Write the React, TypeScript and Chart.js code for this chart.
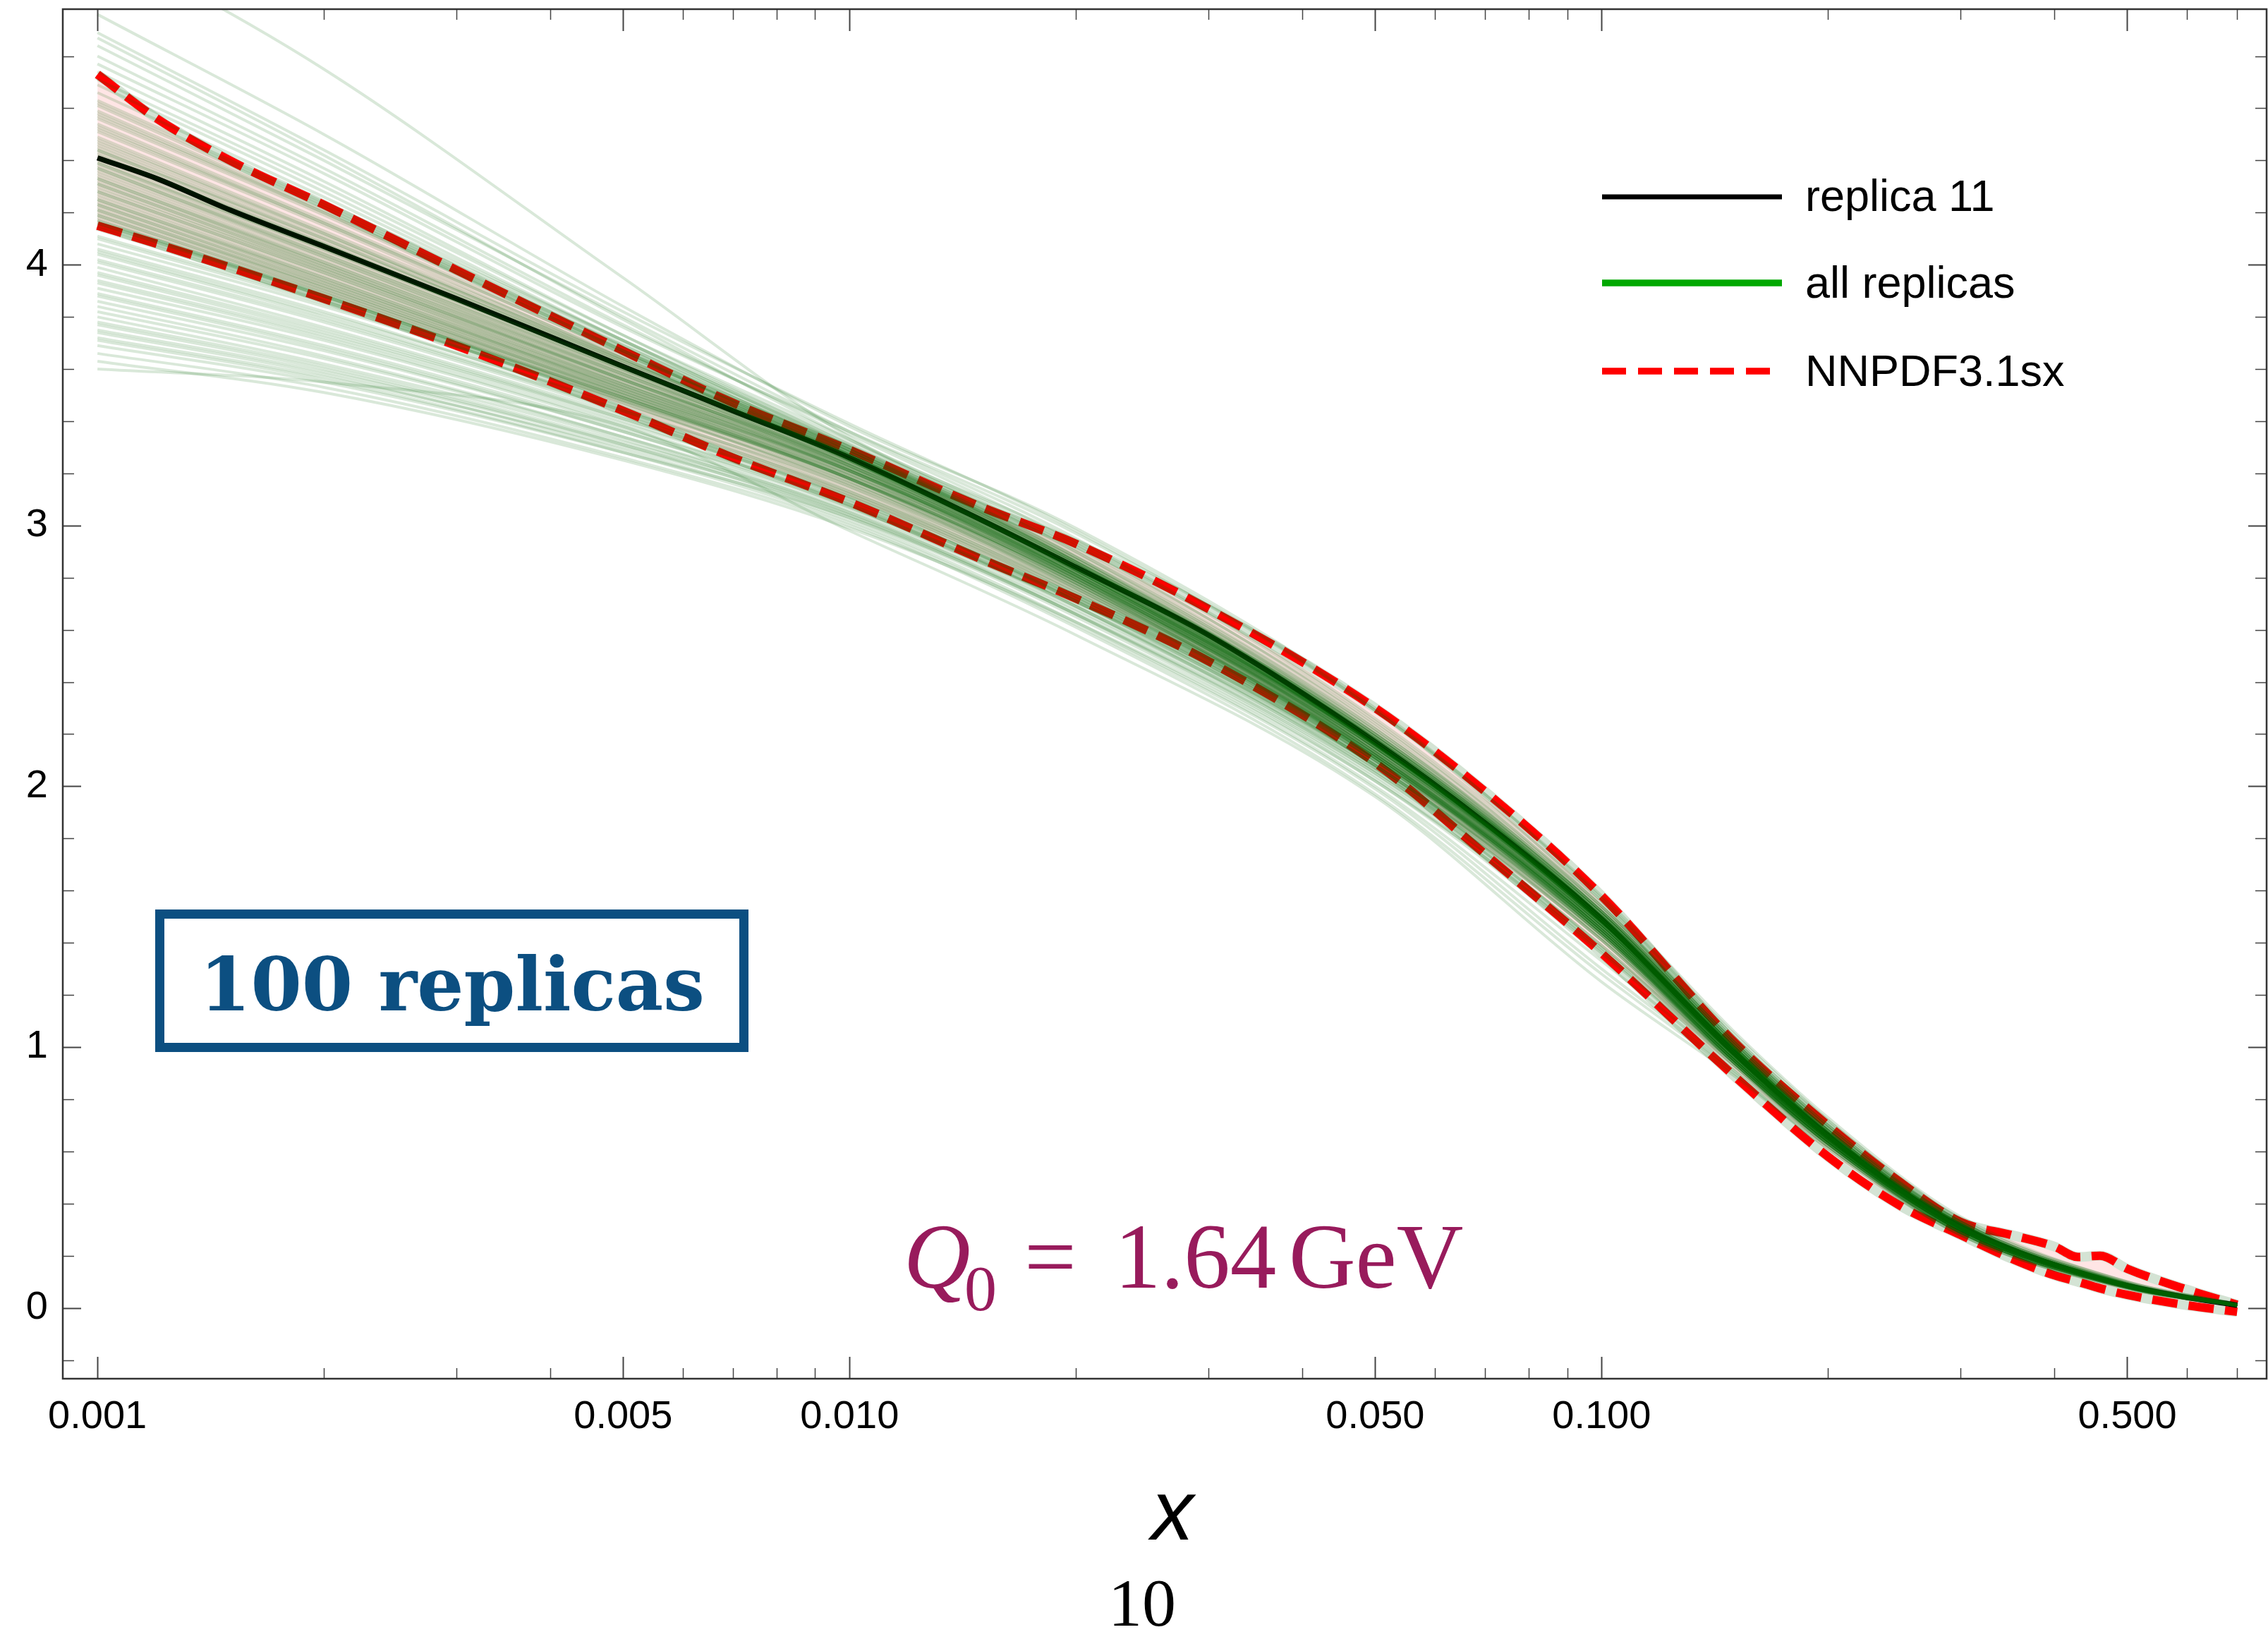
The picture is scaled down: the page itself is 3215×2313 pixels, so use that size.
import React, { useEffect, useRef } from 'react';
import { Chart, registerables } from 'chart.js';

Chart.register(...registerables);

const W = 3215;
const H = 2313;

// Axis ranges and ticks
const X_MIN = 0.0008993;
const X_MAX = 0.766;
const Y_MIN = -0.2716;
const Y_MAX = 4.98;
const X_MAJOR_TICKS = [0.001, 0.005, 0.01, 0.05, 0.1, 0.5];
const X_MAJOR_LABELS = ['0.001', '0.005', '0.010', '0.050', '0.100', '0.500'];
const X_MINOR_TICKS = [0.002, 0.003, 0.004, 0.006, 0.007, 0.008, 0.009, 0.02, 0.03, 0.04, 0.06, 0.07, 0.08, 0.09, 0.2, 0.3, 0.4, 0.6, 0.7];
const Y_MAJOR_TICKS = [0, 1, 2, 3, 4];
const Y_MINOR_TICKS = [-0.2, 0.2, 0.4, 0.6, 0.8, 1.2, 1.4, 1.6, 1.8, 2.2, 2.4, 2.6, 2.8, 3.2, 3.4, 3.6, 3.8, 4.2, 4.4, 4.6, 4.8];

// NNPDF3.1sx band (upper / lower edges)
const X_NNPDF = [0.001, 0.0012, 0.0015, 0.002, 0.003, 0.005, 0.007, 0.01, 0.015, 0.02, 0.03, 0.05, 0.07, 0.1, 0.15, 0.2, 0.25, 0.3, 0.35, 0.4, 0.43, 0.46, 0.5, 0.6, 0.7];
const NNPDF_UPPER = [4.73, 4.56, 4.40, 4.23, 3.98, 3.67, 3.47, 3.29, 3.07, 2.93, 2.68, 2.30, 1.98, 1.58, 1.02, 0.70, 0.48, 0.33, 0.28, 0.235, 0.195, 0.20, 0.15, 0.07, 0.012];
const NNPDF_LOWER = [4.15, 4.08, 3.99, 3.87, 3.69, 3.44, 3.26, 3.09, 2.87, 2.72, 2.48, 2.09, 1.74, 1.36, 0.89, 0.58, 0.39, 0.28, 0.19, 0.125, 0.10, 0.075, 0.05, 0.01, -0.015];

// replica 11
const X_FINE = [0.001, 0.0012, 0.0015, 0.002, 0.003, 0.005, 0.007, 0.01, 0.015, 0.02, 0.03, 0.05, 0.07, 0.1, 0.15, 0.2, 0.25, 0.3, 0.35, 0.4, 0.45, 0.5, 0.6, 0.7];
const REPLICA_11 = [4.41, 4.33, 4.21, 4.07, 3.87, 3.61, 3.44, 3.26, 3.02, 2.84, 2.58, 2.17, 1.86, 1.49, 0.98, 0.66, 0.45, 0.31, 0.225, 0.165, 0.12, 0.085, 0.04, 0.01];

// all 100 replicas
const X_REP = [0.001, 0.002, 0.005, 0.01, 0.02, 0.05, 0.1, 0.15, 0.2, 0.3, 0.5, 0.7];
const REPLICAS: number[][] = [
  [5.25, 4.75, 3.95, 3.34, 2.94, 2.25, 1.54, 1.02, 0.69, 0.33, 0.09, 0.01],
  [4.96, 4.50, 3.84, 3.38, 2.99, 2.30, 1.57, 1.04, 0.71, 0.34, 0.10, 0.015],
  [4.89, 4.44, 3.82, 3.39, 2.98, 2.29, 1.55, 1.03, 0.70, 0.33, 0.095, 0.012],
  [4.87, 4.42, 3.79, 3.33, 2.90, 2.20, 1.50, 0.99, 0.67, 0.32, 0.09, 0.01],
  [4.84, 4.40, 3.80, 3.36, 2.95, 2.26, 1.56, 1.05, 0.72, 0.34, 0.10, 0.014],
  [4.80, 4.37, 3.77, 3.35, 2.93, 2.23, 1.52, 1.00, 0.68, 0.32, 0.088, 0.01],
  [4.77, 4.35, 3.76, 3.36, 2.97, 2.29, 1.58, 1.06, 0.73, 0.35, 0.10, 0.016],
  [4.74, 4.32, 3.73, 3.31, 2.88, 2.18, 1.47, 0.96, 0.64, 0.30, 0.08, 0.008],
  [4.71, 4.30, 3.73, 3.33, 2.92, 2.24, 1.54, 1.02, 0.70, 0.33, 0.092, 0.011],
  [4.69, 4.28, 3.71, 3.30, 2.86, 2.15, 1.45, 0.95, 0.63, 0.29, 0.078, 0.008],
  [4.66, 4.26, 3.71, 3.32, 2.91, 2.22, 1.53, 1.02, 0.69, 0.33, 0.094, 0.012],
  [4.63, 4.24, 3.71, 3.30, 2.88, 2.20, 1.52, 1.00, 0.68, 0.32, 0.09, 0.01],
  [4.61, 4.22, 3.69, 3.28, 2.85, 2.16, 1.47, 0.97, 0.65, 0.31, 0.084, 0.01],
  [4.59, 4.21, 3.69, 3.31, 2.90, 2.22, 1.54, 1.03, 0.70, 0.33, 0.095, 0.013],
  [4.57, 4.20, 3.68, 3.29, 2.86, 2.17, 1.48, 0.97, 0.65, 0.30, 0.082, 0.009],
  [4.56, 4.19, 3.67, 3.27, 2.83, 2.13, 1.44, 0.94, 0.63, 0.30, 0.08, 0.008],
  [4.54, 4.17, 3.67, 3.30, 2.89, 2.21, 1.52, 1.01, 0.68, 0.32, 0.09, 0.011],
  [4.52, 4.16, 3.66, 3.28, 2.86, 2.18, 1.50, 0.99, 0.67, 0.31, 0.086, 0.01],
  [4.51, 4.15, 3.64, 3.25, 2.81, 2.12, 1.43, 0.94, 0.63, 0.29, 0.078, 0.008],
  [4.49, 4.13, 3.65, 3.29, 2.88, 2.21, 1.53, 1.02, 0.69, 0.33, 0.093, 0.012],
  [4.48, 4.12, 3.63, 3.26, 2.83, 2.15, 1.47, 0.97, 0.65, 0.30, 0.083, 0.009],
  [4.46, 4.11, 3.64, 3.28, 2.87, 2.20, 1.52, 1.01, 0.68, 0.32, 0.09, 0.011],
  [4.45, 4.10, 3.62, 3.25, 2.82, 2.13, 1.45, 0.95, 0.64, 0.30, 0.08, 0.009],
  [4.44, 4.09, 3.63, 3.28, 2.86, 2.19, 1.51, 1.00, 0.67, 0.32, 0.088, 0.01],
  [4.43, 4.08, 3.61, 3.25, 2.83, 2.16, 1.48, 0.97, 0.65, 0.31, 0.085, 0.01],
  [4.42, 4.08, 3.62, 3.27, 2.85, 2.18, 1.50, 0.99, 0.67, 0.31, 0.087, 0.01],
  [4.41, 4.07, 3.60, 3.24, 2.81, 2.13, 1.46, 0.96, 0.64, 0.30, 0.082, 0.009],
  [4.40, 4.06, 3.61, 3.27, 2.86, 2.20, 1.52, 1.01, 0.68, 0.32, 0.09, 0.011],
  [4.39, 4.05, 3.60, 3.25, 2.83, 2.16, 1.48, 0.98, 0.66, 0.31, 0.085, 0.01],
  [4.38, 4.04, 3.59, 3.23, 2.80, 2.12, 1.45, 0.96, 0.65, 0.30, 0.083, 0.009],
  [4.37, 4.04, 3.60, 3.27, 2.86, 2.19, 1.51, 1.00, 0.67, 0.32, 0.088, 0.01],
  [4.36, 4.03, 3.58, 3.23, 2.81, 2.14, 1.47, 0.97, 0.65, 0.30, 0.083, 0.01],
  [4.35, 4.02, 3.58, 3.25, 2.84, 2.18, 1.51, 1.00, 0.67, 0.31, 0.087, 0.011],
  [4.34, 4.01, 3.57, 3.22, 2.79, 2.11, 1.44, 0.95, 0.64, 0.30, 0.081, 0.009],
  [4.33, 4.01, 3.58, 3.25, 2.85, 2.19, 1.52, 1.01, 0.68, 0.32, 0.09, 0.012],
  [4.32, 4.00, 3.56, 3.22, 2.80, 2.13, 1.46, 0.97, 0.65, 0.31, 0.084, 0.01],
  [4.31, 3.99, 3.56, 3.24, 2.83, 2.17, 1.50, 0.99, 0.66, 0.31, 0.086, 0.01],
  [4.30, 3.98, 3.55, 3.21, 2.79, 2.12, 1.45, 0.96, 0.64, 0.30, 0.082, 0.009],
  [4.29, 3.98, 3.56, 3.24, 2.84, 2.18, 1.51, 1.00, 0.67, 0.32, 0.089, 0.011],
  [4.28, 3.97, 3.54, 3.21, 2.80, 2.14, 1.47, 0.97, 0.65, 0.30, 0.083, 0.01],
  [4.27, 3.96, 3.54, 3.22, 2.82, 2.16, 1.49, 0.99, 0.66, 0.31, 0.086, 0.01],
  [4.26, 3.95, 3.53, 3.20, 2.78, 2.11, 1.44, 0.95, 0.64, 0.30, 0.08, 0.009],
  [4.25, 3.95, 3.54, 3.23, 2.83, 2.17, 1.50, 0.99, 0.67, 0.31, 0.087, 0.01],
  [4.24, 3.94, 3.52, 3.19, 2.78, 2.12, 1.46, 0.96, 0.65, 0.30, 0.083, 0.01],
  [4.23, 3.93, 3.52, 3.21, 2.81, 2.16, 1.49, 0.99, 0.66, 0.31, 0.086, 0.01],
  [4.22, 3.92, 3.51, 3.18, 2.77, 2.11, 1.45, 0.96, 0.64, 0.30, 0.082, 0.009],
  [4.21, 3.92, 3.52, 3.21, 2.82, 2.17, 1.51, 1.00, 0.67, 0.32, 0.088, 0.011],
  [4.20, 3.91, 3.50, 3.18, 2.78, 2.12, 1.46, 0.97, 0.65, 0.30, 0.083, 0.01],
  [4.19, 3.90, 3.50, 3.19, 2.80, 2.15, 1.49, 0.99, 0.66, 0.31, 0.086, 0.01],
  [4.18, 3.89, 3.49, 3.17, 2.76, 2.10, 1.44, 0.95, 0.64, 0.30, 0.081, 0.009],
  [4.17, 3.89, 3.50, 3.20, 2.81, 2.16, 1.50, 1.00, 0.67, 0.32, 0.088, 0.011],
  [4.16, 3.88, 3.48, 3.17, 2.77, 2.12, 1.46, 0.97, 0.65, 0.30, 0.083, 0.01],
  [4.15, 3.87, 3.48, 3.18, 2.79, 2.14, 1.48, 0.98, 0.66, 0.31, 0.085, 0.01],
  [4.14, 3.86, 3.47, 3.16, 2.76, 2.11, 1.45, 0.96, 0.64, 0.30, 0.082, 0.009],
  [4.62, 4.23, 3.70, 3.29, 2.87, 2.19, 1.51, 1.00, 0.68, 0.32, 0.09, 0.011],
  [4.58, 4.20, 3.67, 3.26, 2.84, 2.16, 1.49, 0.98, 0.66, 0.31, 0.085, 0.01],
  [4.53, 4.16, 3.66, 3.29, 2.87, 2.19, 1.50, 0.99, 0.67, 0.31, 0.087, 0.01],
  [4.47, 4.12, 3.64, 3.27, 2.85, 2.17, 1.49, 0.98, 0.66, 0.31, 0.085, 0.01],
  [4.44, 4.10, 3.63, 3.27, 2.84, 2.16, 1.48, 0.98, 0.66, 0.31, 0.084, 0.01],
  [4.39, 4.06, 3.61, 3.26, 2.84, 2.17, 1.49, 0.98, 0.66, 0.31, 0.085, 0.01],
  [4.37, 4.03, 3.59, 3.26, 2.85, 2.18, 1.50, 0.99, 0.66, 0.31, 0.086, 0.01],
  [4.33, 4.00, 3.57, 3.24, 2.83, 2.16, 1.48, 0.98, 0.66, 0.31, 0.085, 0.01],
  [4.31, 3.99, 3.56, 3.23, 2.82, 2.16, 1.49, 0.98, 0.66, 0.31, 0.085, 0.01],
  [4.28, 3.97, 3.55, 3.23, 2.82, 2.15, 1.48, 0.98, 0.66, 0.31, 0.085, 0.01],
  [4.25, 3.94, 3.53, 3.21, 2.81, 2.15, 1.48, 0.98, 0.66, 0.31, 0.085, 0.01],
  [4.23, 3.93, 3.53, 3.22, 2.82, 2.16, 1.49, 0.99, 0.66, 0.31, 0.086, 0.01],
  [4.21, 3.91, 3.51, 3.20, 2.80, 2.15, 1.48, 0.98, 0.66, 0.31, 0.085, 0.01],
  [4.19, 3.90, 3.51, 3.21, 2.81, 2.16, 1.49, 0.99, 0.66, 0.31, 0.086, 0.01],
  [4.17, 3.88, 3.49, 3.18, 2.79, 2.14, 1.48, 0.98, 0.66, 0.31, 0.085, 0.01],
  [4.16, 3.88, 3.49, 3.19, 2.80, 2.15, 1.48, 0.98, 0.66, 0.31, 0.085, 0.01],
  [4.11, 3.86, 3.49, 3.18, 2.78, 2.14, 1.47, 0.97, 0.65, 0.305, 0.083, 0.01],
  [4.10, 3.85, 3.47, 3.15, 2.75, 2.11, 1.45, 0.96, 0.65, 0.30, 0.082, 0.009],
  [4.08, 3.84, 3.48, 3.18, 2.79, 2.15, 1.49, 0.99, 0.67, 0.31, 0.087, 0.01],
  [4.06, 3.82, 3.45, 3.14, 2.74, 2.10, 1.44, 0.95, 0.64, 0.30, 0.081, 0.009],
  [4.05, 3.81, 3.46, 3.16, 2.77, 2.13, 1.47, 0.97, 0.65, 0.31, 0.084, 0.01],
  [4.04, 3.80, 3.44, 3.13, 2.73, 2.09, 1.43, 0.95, 0.64, 0.30, 0.08, 0.009],
  [4.02, 3.79, 3.44, 3.15, 2.76, 2.13, 1.47, 0.98, 0.66, 0.31, 0.085, 0.01],
  [4.01, 3.78, 3.43, 3.12, 2.72, 2.08, 1.42, 0.94, 0.63, 0.29, 0.079, 0.009],
  [3.99, 3.76, 3.42, 3.13, 2.75, 2.12, 1.47, 0.98, 0.66, 0.31, 0.085, 0.01],
  [3.97, 3.75, 3.41, 3.11, 2.71, 2.07, 1.41, 0.94, 0.63, 0.29, 0.078, 0.008],
  [3.96, 3.74, 3.41, 3.12, 2.74, 2.11, 1.46, 0.97, 0.65, 0.31, 0.084, 0.01],
  [3.94, 3.73, 3.40, 3.10, 2.71, 2.08, 1.43, 0.95, 0.64, 0.30, 0.082, 0.009],
  [3.93, 3.72, 3.39, 3.11, 2.73, 2.10, 1.45, 0.97, 0.65, 0.31, 0.084, 0.01],
  [3.91, 3.71, 3.38, 3.08, 2.69, 2.05, 1.39, 0.94, 0.63, 0.29, 0.077, 0.008],
  [3.89, 3.69, 3.37, 3.09, 2.72, 2.10, 1.46, 0.97, 0.65, 0.31, 0.084, 0.01],
  [3.88, 3.68, 3.36, 3.07, 2.69, 2.06, 1.41, 0.94, 0.63, 0.30, 0.08, 0.009],
  [3.86, 3.67, 3.36, 3.08, 2.71, 2.09, 1.44, 0.96, 0.65, 0.30, 0.083, 0.01],
  [3.84, 3.65, 3.34, 3.05, 2.66, 2.03, 1.37, 0.93, 0.63, 0.29, 0.077, 0.008],
  [3.82, 3.64, 3.34, 3.07, 2.70, 2.08, 1.43, 0.95, 0.64, 0.30, 0.082, 0.009],
  [3.80, 3.62, 3.33, 3.04, 2.66, 2.04, 1.39, 0.93, 0.63, 0.29, 0.079, 0.009],
  [3.78, 3.61, 3.32, 3.06, 2.69, 2.08, 1.44, 0.96, 0.65, 0.30, 0.083, 0.01],
  [3.77, 3.60, 3.31, 3.03, 2.65, 2.02, 1.36, 0.93, 0.62, 0.29, 0.077, 0.008],
  [3.75, 3.59, 3.31, 3.05, 2.68, 2.07, 1.43, 0.95, 0.64, 0.30, 0.082, 0.009],
  [3.74, 3.58, 3.29, 3.02, 2.63, 2.00, 1.33, 0.92, 0.62, 0.29, 0.076, 0.008],
  [3.72, 3.57, 3.30, 3.04, 2.67, 2.06, 1.42, 0.95, 0.64, 0.30, 0.082, 0.009],
  [3.71, 3.56, 3.28, 3.01, 2.62, 1.99, 1.30, 0.91, 0.62, 0.28, 0.075, 0.008],
  [3.69, 3.55, 3.28, 3.03, 2.66, 2.05, 1.41, 0.94, 0.63, 0.30, 0.081, 0.009],
  [3.66, 3.53, 3.26, 3.00, 2.61, 1.97, 1.28, 0.90, 0.61, 0.28, 0.074, 0.008],
  [3.63, 3.51, 3.25, 2.99, 2.63, 2.02, 1.38, 0.94, 0.62, 0.29, 0.078, 0.008],
  [3.60, 3.55, 3.38, 2.98, 2.58, 1.96, 1.25, 0.89, 0.61, 0.28, 0.073, 0.008],
];

// Legend entries
const LEGEND_LABELS = ['replica 11', 'all replicas', 'NNPDF3.1sx'];

const pts = (xs: number[], ys: number[]) => xs.map((x, i) => ({ x, y: ys[i] }));

const overlayPlugin = {
  id: 'overlay',
  afterDraw(chart: any) {
    const { ctx, chartArea: a, scales } = chart;
    const xs = scales.x;
    const ys = scales.y;
    ctx.save();

    // tick marks on all four sides
    ctx.strokeStyle = '#444';
    const tick = (px: number, len: number, horiz: boolean) => {
      ctx.beginPath();
      if (horiz) {
        ctx.moveTo(px, a.bottom); ctx.lineTo(px, a.bottom - len);
        ctx.moveTo(px, a.top); ctx.lineTo(px, a.top + len);
      } else {
        ctx.moveTo(a.left, px); ctx.lineTo(a.left + len, px);
        ctx.moveTo(a.right, px); ctx.lineTo(a.right - len, px);
      }
      ctx.stroke();
    };
    ctx.lineWidth = 2;
    X_MAJOR_TICKS.forEach((v) => tick(Math.round(xs.getPixelForValue(v)) + 0.5, 31, true));
    Y_MAJOR_TICKS.forEach((v) => tick(Math.round(ys.getPixelForValue(v)) + 0.5, 26, false));
    ctx.lineWidth = 1.5;
    X_MINOR_TICKS.forEach((v) => tick(Math.round(xs.getPixelForValue(v)) + 0.5, 15, true));
    Y_MINOR_TICKS.forEach((v) => tick(Math.round(ys.getPixelForValue(v)) + 0.5, 16, false));

    // frame
    ctx.strokeStyle = '#333';
    ctx.lineWidth = 2.5;
    ctx.strokeRect(a.left, a.top, a.right - a.left, a.bottom - a.top);

    // legend
    ctx.lineCap = 'butt';
    ctx.setLineDash([]);
    ctx.strokeStyle = '#000000';
    ctx.lineWidth = 7;
    ctx.beginPath(); ctx.moveTo(2271, 279); ctx.lineTo(2526, 279); ctx.stroke();
    ctx.strokeStyle = '#00a800';
    ctx.lineWidth = 9.5;
    ctx.beginPath(); ctx.moveTo(2271, 401); ctx.lineTo(2526, 401); ctx.stroke();
    ctx.strokeStyle = '#ff0000';
    ctx.setLineDash([34, 17]);
    ctx.beginPath(); ctx.moveTo(2271, 526); ctx.lineTo(2510, 526); ctx.stroke();
    ctx.setLineDash([]);
    ctx.fillStyle = '#000';
    ctx.font = '63px "Liberation Sans", Arial, sans-serif';
    ctx.textAlign = 'left';
    ctx.textBaseline = 'alphabetic';
    ctx.fillText(LEGEND_LABELS[0], 2559, 299);
    ctx.fillText(LEGEND_LABELS[1], 2559, 422);
    ctx.fillText(LEGEND_LABELS[2], 2559, 547);

    // "100 replicas" stamp
    const blue = '#0c4f81';
    ctx.strokeStyle = blue;
    ctx.lineWidth = 13;
    ctx.strokeRect(226.5, 1295.5, 828, 189);
    ctx.fillStyle = blue;
    ctx.font = 'bold 100px "DejaVu Serif", serif';
    const m = ctx.measureText('100 replicas');
    const inkW = m.actualBoundingBoxRight + m.actualBoundingBoxLeft;
    const size = (100 * 700) / inkW;
    ctx.font = `bold ${size.toFixed(1)}px "DejaVu Serif", serif`;
    const m2 = ctx.measureText('100 replicas');
    ctx.fillText('100 replicas', 295 + m2.actualBoundingBoxLeft, 1432);

    // Q0 = 1.64 GeV
    const purple = '#981b5c';
    ctx.fillStyle = purple;
    ctx.font = 'italic 131px "Liberation Serif", "Times New Roman", serif';
    ctx.fillText('Q', 1281, 1825);
    ctx.font = '92px "Liberation Serif", "Times New Roman", serif';
    ctx.fillText('0', 1367, 1857);
    ctx.font = '131px "Liberation Serif", "Times New Roman", serif';
    ctx.fillText('=', 1452, 1825);
    ctx.fillText('1.64', 1580, 1825);
    ctx.fillText('GeV', 1827, 1825);

    // axis label "x" and "10"
    ctx.fillStyle = '#000';
    ctx.textAlign = 'center';
    ctx.font = 'italic 120px "Liberation Sans", Arial, sans-serif';
    ctx.fillText('x', 1662, 2182);
    ctx.textAlign = 'left';
    ctx.font = '96px "Liberation Serif", "Times New Roman", serif';
    ctx.fillText('10', 1571, 2304);

    ctx.restore();
  },
};

export default function App() {
  const ref = useRef<HTMLCanvasElement>(null);

  useEffect(() => {
    const canvas = ref.current;
    if (!canvas) return;
    const base = { pointRadius: 0, pointHoverRadius: 0, cubicInterpolationMode: 'monotone' as const };
    const datasets: any[] = [
      { ...base, data: pts(X_NNPDF, NNPDF_LOWER), borderWidth: 0, borderColor: 'rgba(0,0,0,0)', fill: false, order: 100 },
      { ...base, data: pts(X_NNPDF, NNPDF_UPPER), borderWidth: 0, borderColor: 'rgba(0,0,0,0)', fill: '-1', backgroundColor: 'rgba(255,0,0,0.1)', order: 99 },
      { ...base, data: pts(X_NNPDF, NNPDF_LOWER), borderWidth: 14, borderColor: 'rgba(212,227,212,1)', fill: false, order: 98 },
      { ...base, data: pts(X_NNPDF, NNPDF_UPPER), borderWidth: 14, borderColor: 'rgba(212,227,212,1)', fill: false, order: 97 },
      { ...base, data: pts(X_NNPDF, NNPDF_LOWER), borderWidth: 12, borderColor: '#ff0000', borderDash: [36, 16], fill: false, order: 96 },
      { ...base, data: pts(X_NNPDF, NNPDF_UPPER), borderWidth: 12, borderColor: '#ff0000', borderDash: [36, 16], fill: false, order: 95 },
      { ...base, data: pts(X_FINE, REPLICA_11), borderWidth: 7.5, borderColor: '#000000', fill: false, order: 94 },
      ...REPLICAS.map((r) => ({ ...base, data: pts(X_REP, r), borderWidth: 4, borderColor: 'rgba(0,100,0,0.15)', fill: false, order: 1 })),
    ];

    const chart = new Chart(canvas, {
      type: 'line',
      data: { datasets },
      options: {
        animation: false,
        responsive: false,
        maintainAspectRatio: false,
        events: [],
        layout: { padding: { left: 0, top: 13, right: 2, bottom: 0 } },
        plugins: { legend: { display: false }, tooltip: { enabled: false } },
        scales: {
          x: {
            type: 'logarithmic',
            position: 'bottom',
            min: X_MIN,
            max: X_MAX,
            grid: { display: false, drawTicks: false },
            border: { display: false },
            afterBuildTicks: (s: any) => { s.ticks = X_MAJOR_TICKS.map((v) => ({ value: v })); },
            afterFit: (s: any) => { s.height = H - 1954; s.paddingLeft = 0; s.paddingRight = 0; },
            ticks: {
              autoSkip: false,
              maxRotation: 0,
              minRotation: 0,
              padding: 21,
              color: '#000',
              font: { family: '"Liberation Sans", Arial, sans-serif', size: 56 },
              callback: (_v: any, i: number) => X_MAJOR_LABELS[i] ?? '',
            },
          },
          y: {
            type: 'linear',
            min: Y_MIN,
            max: Y_MAX,
            grid: { display: false, drawTicks: false },
            border: { display: false },
            afterBuildTicks: (s: any) => { s.ticks = Y_MAJOR_TICKS.map((v) => ({ value: v })); },
            afterFit: (s: any) => { s.width = 89; s.paddingTop = 0; s.paddingBottom = 0; },
            ticks: {
              padding: 21,
              color: '#000',
              font: { family: '"Liberation Sans", Arial, sans-serif', size: 56 },
              callback: (v: any) => String(v),
            },
          },
        },
      } as any,
      plugins: [overlayPlugin],
    });
    return () => chart.destroy();
  }, []);

  return (
    <div style={{ position: 'fixed', left: 0, top: 0, width: W, height: H, background: '#fff' }}>
      <canvas ref={ref} width={W} height={H} style={{ width: W, height: H, display: 'block' }} />
    </div>
  );
}
